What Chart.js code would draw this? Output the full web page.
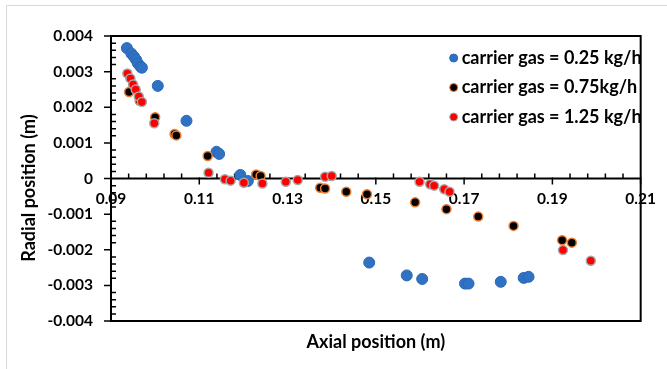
<!DOCTYPE html>
<html>
<head>
<meta charset="utf-8">
<script src="https://cdn.jsdelivr.net/npm/chart.js@4"></script>
<style>
    body { margin: 0; background: #fff; }
    #frame { position: absolute; left: 6px; top: 5px; width: 700px; height: 400px; border-left: 1px solid #d9d9d9; border-top: 1px solid #d9d9d9; }
    #radial { position: absolute; left: 0; top: 0; }
</style>
</head>
<body>
<div id="frame"></div>
<canvas id="radial" width="667" height="369"></canvas>
<script>
const seriesLabels = ['carrier gas = 0.25 kg/h', 'carrier gas = 0.75kg/h', 'carrier gas = 1.25 kg/h'];
const xTitle = 'Axial position (m)';
const yTitle = 'Radial position (m)';

// carrier gas 0.25 kg/h
const lowX = [0.0936, 0.0946, 0.0952, 0.0957, 0.0961, 0.0967, 0.0970, 0.1006, 0.1071, 0.1139, 0.1145, 0.1193, 0.1210,
    0.1485, 0.1570, 0.1605, 0.1702, 0.1710, 0.1783, 0.1835, 0.1846];
const lowY = [0.00366, 0.00351, 0.00342, 0.00333, 0.00323, 0.00314, 0.00311, 0.00260, 0.00162, 0.00075, 0.00069, 0.00010, -0.00007,
    -0.00236, -0.00272, -0.00282, -0.00295, -0.00295, -0.00290, -0.00279, -0.00276];

// carrier gas 0.75 kg/h
const midX = [0.0941, 0.0965, 0.1000, 0.1044, 0.1048, 0.1119, 0.1229, 0.1239, 0.1374, 0.1385, 0.1433, 0.1480,
    0.1589, 0.1660, 0.1732, 0.1812, 0.1922, 0.1944];
const midY = [0.00243, 0.00218, 0.00172, 0.00125, 0.00121, 0.00063, 0.00011, 0.00007, -0.00026, -0.00028, -0.00037, -0.00044,
    -0.00067, -0.00086, -0.00107, -0.00133, -0.00173, -0.00180];

// carrier gas 1.25 kg/h
const highX = [0.0937, 0.0944, 0.0950, 0.0956, 0.0963, 0.0970, 0.0998, 0.1121, 0.1158, 0.1171, 0.1201, 0.1243, 0.1296,
    0.1323, 0.1385, 0.1400, 0.1599, 0.1623, 0.1632, 0.1655, 0.1667, 0.1924, 0.1987];
const highY = [0.00295, 0.00281, 0.00264, 0.00250, 0.00230, 0.00215, 0.00155, 0.00016, -0.00002, -0.00006, -0.00012, -0.00014, -0.00009,
    -0.00004, 0.00005, 0.00007, -0.00009, -0.00016, -0.00020, -0.00030, -0.00037, -0.00201, -0.00231];

const xTicks = [0.09, 0.11, 0.13, 0.15, 0.17, 0.19, 0.21];
const yTicks = [-0.004, -0.003, -0.002, -0.001, 0, 0.001, 0.002, 0.003, 0.004];

const pairs = (xs, ys) => xs.map((x, i) => ({x: x, y: ys[i]}));

// plot box, axis through zero and the Excel-style minor ticks
const boxAndTicks = {
    id: 'boxAndTicks',
    beforeDatasetsDraw(chart) {
        const {ctx, chartArea: a, scales: {x, y}} = chart;
        const y0 = y.getPixelForValue(0);
        ctx.save();
        ctx.strokeStyle = '#000';
        ctx.lineWidth = 2;
        ctx.strokeRect(a.left, a.top, a.right - a.left, a.bottom - a.top);
        ctx.beginPath();
        ctx.moveTo(a.left, y0);
        ctx.lineTo(a.right, y0);
        ctx.stroke();
        ctx.lineWidth = 1.5;
        ctx.beginPath();
        for (let k = 0; k <= 40; k++) {
            const py = y.getPixelForValue(-0.004 + k * 0.0002);
            if (k % 5 === 0) { ctx.moveTo(a.left - 7, py); ctx.lineTo(a.left, py); }
            else { ctx.moveTo(a.left, py); ctx.lineTo(a.left + 5, py); }
        }
        for (let k = 0; k <= 30; k++) {
            const px = x.getPixelForValue(0.09 + k * 0.004);
            if (k % 5 === 0) { ctx.moveTo(px, y0 - 1); ctx.lineTo(px, y0 + 6); }
            else { ctx.moveTo(px, y0 - 5); ctx.lineTo(px, y0); }
        }
        ctx.stroke();

        // axis titles
        ctx.fillStyle = '#000';
        ctx.font = 'bold 18px Lato';
        ctx.textAlign = 'center';
        ctx.textBaseline = 'middle';
        ctx.fillText(xTitle, (a.left + a.right) / 2, 342);
        ctx.translate(29, 188);
        ctx.rotate(-Math.PI / 2);
        ctx.fillText(yTitle, 0, 0);
        ctx.restore();
    }
};

const keyBox = {
    id: 'keyBox',
    afterDraw(chart) {
        const ctx = chart.ctx;
        const a = chart.chartArea;
        ctx.save();
        ctx.font = 'bold 18px Lato';
        ctx.textBaseline = 'middle';
        chart.data.datasets.forEach((ds, i) => {
            const cy = a.top + 22 + i * 29.5;
            const cx = a.right - 187;
            ctx.beginPath();
            ctx.arc(cx, cy, 4, 0, 2 * Math.PI);
            ctx.fillStyle = ds.backgroundColor;
            ctx.fill();
            ctx.lineWidth = 1;
            ctx.strokeStyle = ds.borderColor;
            ctx.stroke();
            ctx.fillStyle = '#000';
            ctx.fillText(ds.label, cx + 8, cy);
        });
        ctx.restore();
    }
};

Chart.defaults.font.family = 'Lato';
Chart.defaults.color = '#000';

new Chart(document.getElementById('radial'), {
    type: 'scatter',
    data: {
        datasets: [{
            label: seriesLabels[0],
            data: pairs(lowX, lowY),
            backgroundColor: '#2f72c4',
            borderColor: '#2a68b5',
            pointRadius: 5.5,
            pointBorderWidth: 1,
            order: 3
        }, {
            label: seriesLabels[1],
            data: pairs(midX, midY),
            backgroundColor: '#000000',
            borderColor: '#ed7d31',
            pointRadius: 4.5,
            pointBorderWidth: 1.5,
            order: 2
        }, {
            label: seriesLabels[2],
            data: pairs(highX, highY),
            backgroundColor: '#ff0000',
            borderColor: '#a6a6a6',
            pointRadius: 4.5,
            pointBorderWidth: 1.5,
            order: 1
        }]
    },
    options: {
        responsive: false,
        animation: false,
        devicePixelRatio: 1,
        layout: { padding: { left: 0, right: 18, top: 36, bottom: 48 } },
        plugins: {
            legend: { display: false },
            tooltip: { enabled: false }
        },
        scales: {
            x: {
                type: 'linear',
                position: { y: 0 },
                min: 0.09,
                max: 0.21,
                afterBuildTicks: (scale) => { scale.ticks = xTicks.map(v => ({value: v})); },
                grid: { display: false, drawTicks: false },
                border: { display: false },
                ticks: {
                    padding: 11,
                    maxRotation: 0,
                    font: { size: 15.5, weight: 'bold' },
                    callback: (v) => Number(v).toFixed(2)
                }
            },
            y: {
                type: 'linear',
                min: -0.004,
                max: 0.004,
                afterBuildTicks: (scale) => { scale.ticks = yTicks.map(v => ({value: v})); },
                afterFit: (scale) => { scale.width = 111; },
                grid: { display: false, drawTicks: false },
                border: { display: false },
                ticks: {
                    padding: 18,
                    font: { size: 15.5, weight: 'bold' },
                    callback: (v) => Math.abs(v) < 1e-9 ? '0' : Number(v).toFixed(3)
                }
            }
        }
    },
    plugins: [boxAndTicks, keyBox]
});
</script>
</body>
</html>
